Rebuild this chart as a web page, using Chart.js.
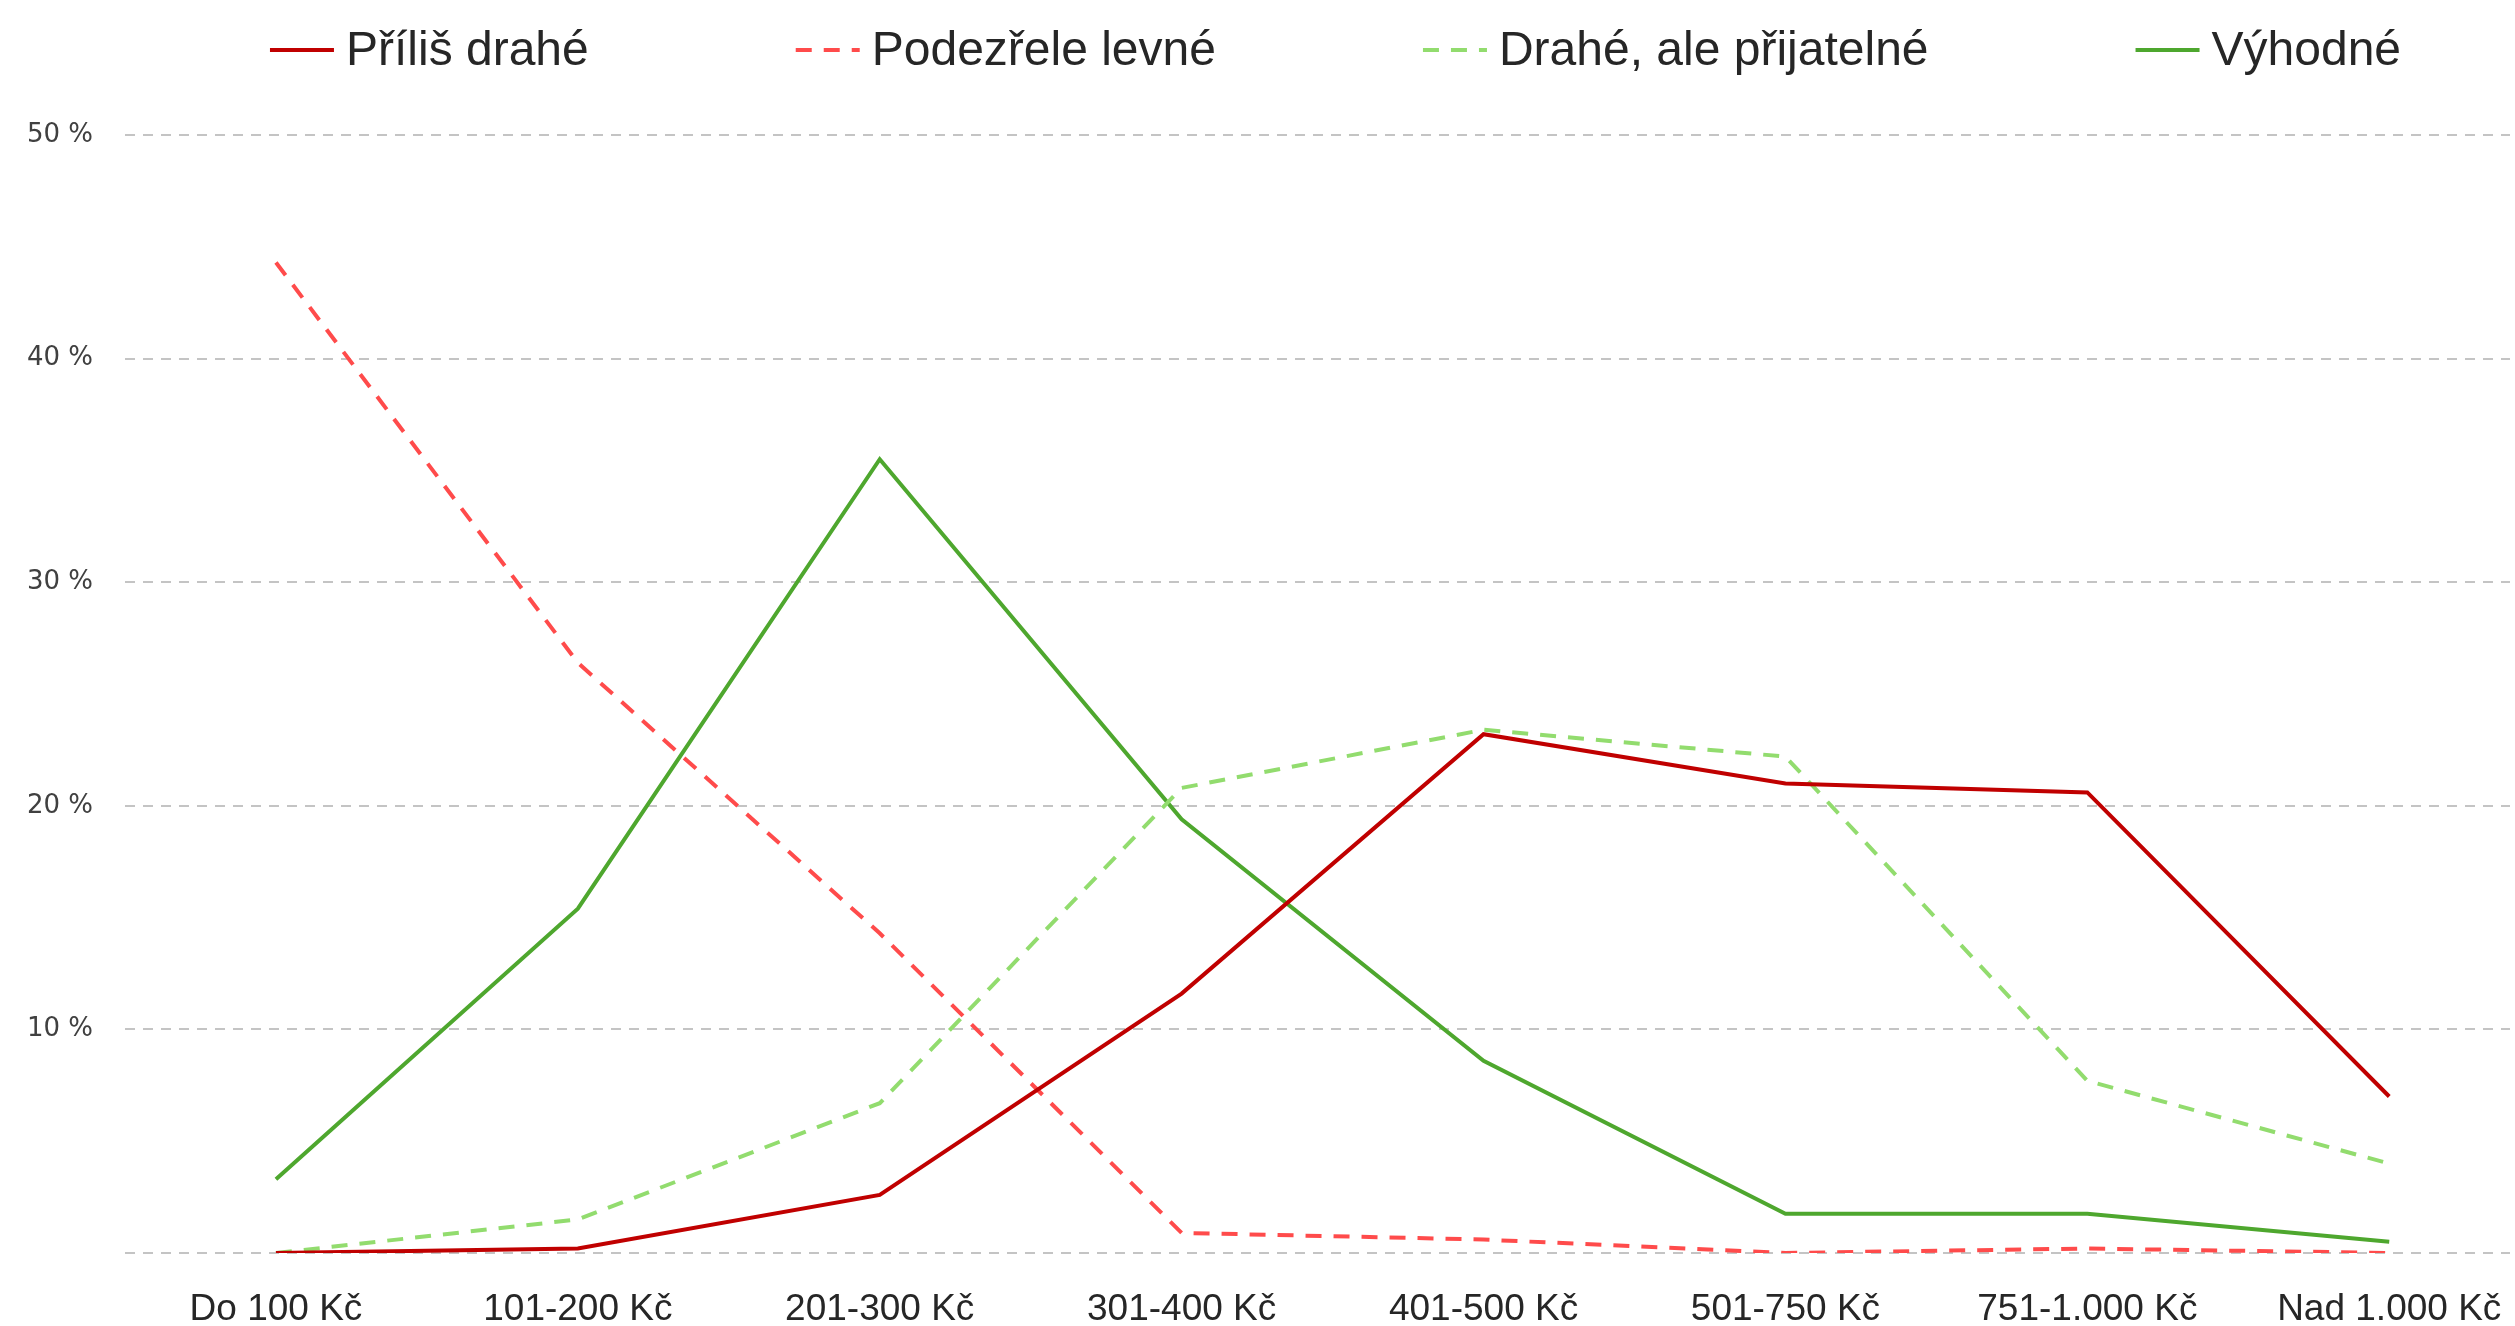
<!DOCTYPE html>
<html>
<head>
<meta charset="utf-8">
<script src="https://cdn.jsdelivr.net/npm/chart.js@4.4.1/dist/chart.umd.min.js"></script>
<style>
  html, body { margin: 0; padding: 0; background: #ffffff; }
  #wrap { width: 2515px; height: 1326px; position: relative; }
</style>
</head>
<body>
<div id="wrap"><canvas id="linechart"></canvas></div>
<script>
const categories = ['Do 100 Kč', '101-200 Kč', '201-300 Kč', '301-400 Kč', '401-500 Kč', '501-750 Kč', '751-1.000 Kč', 'Nad 1.000 Kč'];

const prilisDrahe = [0, 0.2, 2.6, 11.6, 23.2, 21.0, 20.6, 7.0];
const podezreleLevne = [44.3, 26.4, 14.3, 0.9, 0.6, 0, 0.2, 0];
const draheAlePrijatelne = [0, 1.5, 6.7, 20.8, 23.4, 22.2, 7.7, 4.0];
const vyhodne = [3.3, 15.4, 35.5, 19.4, 8.6, 1.75, 1.75, 0.5];

const yTicks = [0, 10, 20, 30, 40, 50];

const labelFont = "'Liberation Sans', Arial, sans-serif";

// category i sits at x = i on a linear axis, so the plot can run a bit past the last band
function toPoints(values) {
    return values.map((v, i) => ({ x: i, y: v }));
}

// legend drawn on top of the chart, item gaps wider than built-in legend allows
const topLegend = {
    id: 'topLegend',
    afterDraw(chart) {
        const ctx = chart.ctx;
        const sets = chart.data.datasets;
        const lineLen = 64, textGap = 12, itemGap = 207;
        ctx.save();
        ctx.font = "48px " + labelFont;
        ctx.textBaseline = 'middle';
        ctx.textAlign = 'left';
        let total = 0;
        sets.forEach(function (ds, i) {
            total += lineLen + textGap + ctx.measureText(ds.label).width;
            if (i > 0) total += itemGap;
        });
        const area = chart.chartArea;
        let x = (area.left + area.right) / 2 + 18 - total / 2;
        const y = 50;
        sets.forEach(function (ds) {
            ctx.strokeStyle = ds.borderColor;
            ctx.lineWidth = 4;
            ctx.setLineDash(ds.borderDash || []);
            ctx.beginPath();
            ctx.moveTo(x, y);
            ctx.lineTo(x + lineLen, y);
            ctx.stroke();
            ctx.setLineDash([]);
            ctx.fillStyle = '#262626';
            ctx.fillText(ds.label, x + lineLen + textGap, y + 2);
            x += lineLen + textGap + ctx.measureText(ds.label).width + itemGap;
        });
        ctx.restore();
    }
};

new Chart(document.getElementById('linechart'), {
    type: 'line',
    data: {
        datasets: [
            {
                label: 'Příliš drahé',
                data: toPoints(prilisDrahe),
                borderColor: '#c00000',
                borderWidth: 4
            },
            {
                label: 'Podezřele levné',
                data: toPoints(podezreleLevne),
                borderColor: '#ff4b4b',
                borderWidth: 4,
                borderDash: [16, 12]
            },
            {
                label: 'Drahé, ale přijatelné',
                data: toPoints(draheAlePrijatelne),
                borderColor: '#92dc6e',
                borderWidth: 4,
                borderDash: [16, 12]
            },
            {
                label: 'Výhodné',
                data: toPoints(vyhodne),
                borderColor: '#4ea72e',
                borderWidth: 4
            }
        ]
    },
    options: {
        responsive: true,
        maintainAspectRatio: false,
        animation: false,
        elements: {
            point: { radius: 0 },
            line: { tension: 0 }
        },
        layout: {
            padding: { top: 135, left: 0, right: 5, bottom: 1 }
        },
        scales: {
            x: {
                type: 'linear',
                min: -0.5,
                max: 7.4,
                afterBuildTicks(axis) {
                    axis.ticks = categories.map((c, i) => ({ value: i }));
                },
                grid: { display: false, drawTicks: false },
                border: { display: false },
                afterFit(axis) {
                    axis.height = 72;
                    axis.paddingLeft = 0;
                    axis.paddingRight = 0;
                },
                ticks: {
                    color: '#262626',
                    padding: 38,
                    maxRotation: 0,
                    autoSkip: false,
                    font: { family: labelFont, size: 37, lineHeight: 1.0 },
                    callback: v => categories[v]
                }
            },
            y: {
                min: 0,
                max: 50,
                afterBuildTicks(axis) {
                    axis.ticks = yTicks.map(v => ({ value: v }));
                },
                afterFit(axis) { axis.width = 125; },
                border: { display: false, dash: [10, 8] },
                grid: {
                    color: '#c4c4c4',
                    lineWidth: 2,
                    drawTicks: false
                },
                ticks: {
                    color: '#404040',
                    padding: 32,
                    font: { family: "'DejaVu Sans', Verdana, sans-serif", size: 26 },
                    callback: v => v === 0 ? '' : v + ' %'
                }
            }
        },
        plugins: {
            legend: { display: false },
            tooltip: { enabled: false }
        }
    },
    plugins: [topLegend]
});
</script>
</body>
</html>
